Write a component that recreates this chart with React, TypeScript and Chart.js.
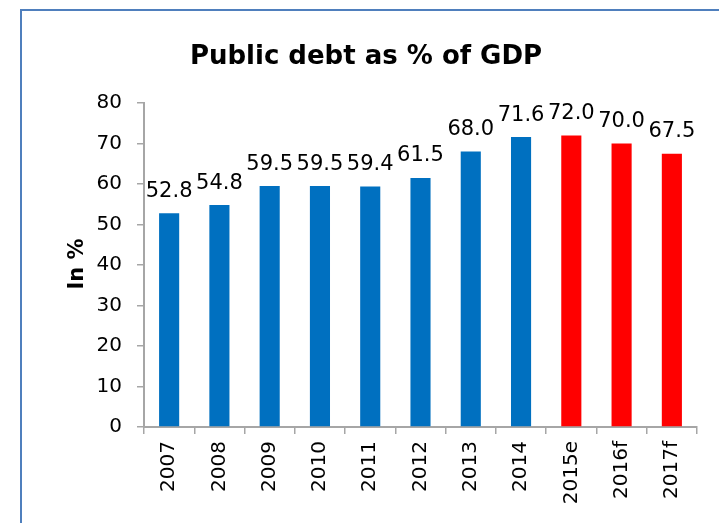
import React, { useEffect, useRef } from 'react';
import { Chart, registerables } from 'chart.js';

Chart.register(...registerables);

const categories = ['2007', '2008', '2009', '2010', '2011', '2012', '2013', '2014', '2015e', '2016f', '2017f'];
const debtValues = [52.8, 54.8, 59.5, 59.5, 59.4, 61.5, 68.0, 71.6, 72.0, 70.0, 67.5];
const isForecast = [false, false, false, false, false, false, false, false, true, true, true];
const yMin = 0;
const yMax = 80;
const yStep = 10;
const chartTitle = 'Public debt as % of GDP';
const yAxisTitle = 'In %';

const ACTUAL_COLOR = '#0070C0';
const FORECAST_COLOR = '#FF0000';
const AXIS_COLOR = '#A6A6A6';
const FRAME_COLOR = '#4F7FBD';
const FONT_FAMILY = '"DejaVu Sans"';

const decorPlugin = {
  id: 'decor',
  beforeDraw(chart: any) {
    const ctx = chart.ctx;
    ctx.save();
    ctx.fillStyle = '#ffffff';
    ctx.fillRect(0, 0, chart.width, chart.height);
    ctx.strokeStyle = FRAME_COLOR;
    ctx.lineWidth = 2;
    ctx.strokeRect(21, 10, chart.width + 20, chart.height + 20);
    ctx.restore();
  },
  afterDatasetsDraw(chart: any) {
    const ctx = chart.ctx;
    const meta = chart.getDatasetMeta(0);
    ctx.save();
    ctx.fillStyle = '#000000';
    ctx.font = `21px ${FONT_FAMILY}`;
    ctx.textAlign = 'center';
    ctx.textBaseline = 'alphabetic';
    meta.data.forEach((bar: any, i: number) => {
      const v = chart.data.datasets[0].data[i] as number;
      ctx.fillText(v.toFixed(1), bar.x, bar.y - 16.5);
    });
    ctx.restore();
  },
  afterDraw(chart: any) {
    const ctx = chart.ctx;
    ctx.save();
    ctx.fillStyle = '#000000';
    ctx.font = `bold 26px ${FONT_FAMILY}`;
    ctx.textAlign = 'center';
    ctx.textBaseline = 'alphabetic';
    ctx.fillText(chartTitle, 366, 63.5);
    ctx.translate(83, 264);
    ctx.rotate(-Math.PI / 2);
    ctx.font = `bold 21px ${FONT_FAMILY}`;
    ctx.fillText(yAxisTitle, 0, 0);
    ctx.restore();
  },
};

export default function App() {
  const canvasRef = useRef<HTMLCanvasElement | null>(null);

  useEffect(() => {
    if (!canvasRef.current) return;
    const chart = new Chart(canvasRef.current, {
      type: 'bar',
      data: {
        labels: categories,
        datasets: [
          {
            data: debtValues,
            backgroundColor: isForecast.map((f) => (f ? FORECAST_COLOR : ACTUAL_COLOR)),
            borderWidth: 0,
            barPercentage: 0.8,
            categoryPercentage: 0.5,
          },
        ],
      },
      options: {
        animation: false,
        responsive: true,
        maintainAspectRatio: false,
        layout: { padding: { top: 103, right: 22, left: 0, bottom: 0 } },
        plugins: {
          legend: { display: false },
          title: { display: false },
          tooltip: { enabled: false },
        },
        scales: {
          x: {
            grid: { drawOnChartArea: false, tickLength: 7, color: AXIS_COLOR, lineWidth: 1.5, offset: true },
            border: { color: AXIS_COLOR, width: 2 },
            ticks: {
              minRotation: 90,
              maxRotation: 90,
              autoSkip: false,
              padding: 7,
              color: '#000000',
              font: { family: 'DejaVu Sans', size: 20 },
            },
            afterFit(scale: any) {
              scale.height = 96;
            },
          },
          y: {
            min: yMin,
            max: yMax,
            grid: { drawOnChartArea: false, tickLength: 7, color: AXIS_COLOR, lineWidth: 1.5 },
            border: { color: AXIS_COLOR, width: 2 },
            ticks: {
              stepSize: yStep,
              padding: 15,
              color: '#000000',
              font: { family: 'DejaVu Sans', size: 20 },
            },
            afterFit(scale: any) {
              scale.width = 144;
            },
          },
        },
      },
      plugins: [decorPlugin],
    });
    return () => chart.destroy();
  }, []);

  return (
    <div style={{ position: 'fixed', left: 0, top: 0, width: 719, height: 523, background: '#ffffff' }}>
      <canvas ref={canvasRef} />
    </div>
  );
}
